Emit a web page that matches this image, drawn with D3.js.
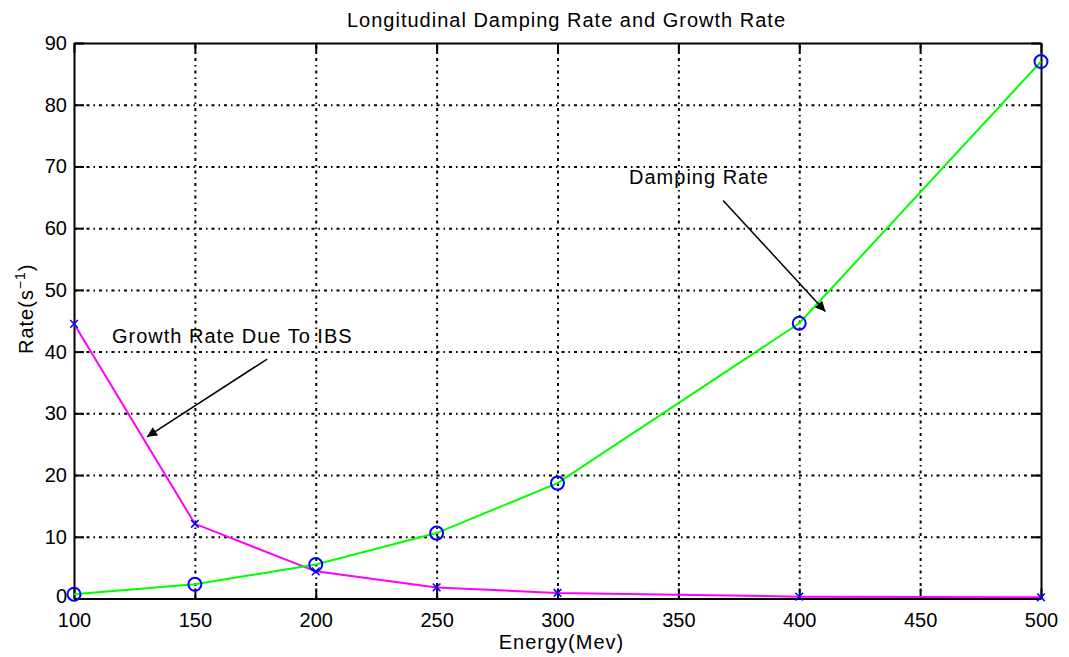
<!DOCTYPE html>
<html lang="en">

<head>
	<meta charset="utf-8">
	<title>Longitudinal Damping Rate and Growth Rate</title>
	<script type="text/javascript" src="https://cdn.jsdelivr.net/npm/d3@7"></script>
	<style type="text/css">
		body {
			margin: 0;
			background: #fff;
		}

		svg text {
			font-family: "Liberation Sans", Arial, sans-serif;
			fill: #000;
		}

		.label {
			font-size: 20px;
			letter-spacing: 1px;
		}

		.axis path,
		.axis line {
			stroke: #000;
			stroke-width: 2px;
		}

		.axis text {
			font-size: 20px;
		}

		.grid line {
			stroke: #000;
			stroke-width: 2px;
			stroke-dasharray: 3, 4, 1.5, 4;
		}

		.grid path {
			stroke: none;
		}
	</style>
</head>

<body>
	<script type="text/javascript">
		//Width and height
		var w = 1069;
		var h = 657;
		var margin = { top: 43, right: 28, bottom: 58.5, left: 74 };

		// data
		var energy = [100, 150, 200, 250, 300, 400, 500];
		var dampingRate = [0.7, 2.3, 5.5, 10.6, 18.7, 44.6, 87.0];
		var growthRate = [44.5, 12.1, 4.4, 1.8, 0.9, 0.3, 0.2];

		var xTicks = [100, 150, 200, 250, 300, 350, 400, 450, 500];
		var yTicks = [0, 10, 20, 30, 40, 50, 60, 70, 80, 90];

		// annotations: [label, text x, text y, arrow from x, y, arrow to x, y] in data units
		var notes = [
			["Damping Rate", 329.6, 67.2, 368.5, 64.5, 410.8, 46.5],
			["Growth Rate Due To IBS", 115.7, 41.4, 179.9, 38.8, 130.2, 26.2]
		];

		var pw = w - margin.left - margin.right;
		var ph = h - margin.top - margin.bottom;

		//Create scale functions
		var xScale = d3.scaleLinear()
			.domain([100, 500])
			.range([margin.left, margin.left + pw]);

		var yScale = d3.scaleLinear()
			.domain([0, 90])
			.range([margin.top + ph, margin.top]);

		//Create SVG element
		var svg = d3.select("body")
			.append("svg")
			.attr("width", w)
			.attr("height", h);

		// arrow head
		svg.append("defs")
			.append("marker")
			.attr("id", "head")
			.attr("viewBox", "0 0 10 10")
			.attr("refX", 10)
			.attr("refY", 5)
			.attr("markerUnits", "userSpaceOnUse")
			.attr("markerWidth", 13)
			.attr("markerHeight", 10)
			.attr("orient", "auto")
			.append("path")
			.attr("d", "M0,0 L10,5 L0,10 Z")
			.attr("fill", "#000");

		// grid lines
		svg.append("g")
			.attr("class", "grid")
			.attr("transform", "translate(0," + (margin.top + ph) + ")")
			.call(d3.axisBottom(xScale).tickValues(xTicks.slice(1, -1)).tickSize(-ph).tickFormat(""));

		svg.append("g")
			.attr("class", "grid")
			.attr("transform", "translate(" + margin.left + ",0)")
			.call(d3.axisLeft(yScale).tickValues(yTicks.slice(1, -1)).tickSize(-pw).tickFormat(""));

		// axes, ticks pointing inward
		var xAxis = d3.axisBottom(xScale)
			.tickValues(xTicks)
			.tickSizeInner(-10)
			.tickSizeOuter(0)
			.tickPadding(14);

		var yAxis = d3.axisLeft(yScale)
			.tickValues(yTicks)
			.tickSizeInner(-10)
			.tickSizeOuter(0)
			.tickPadding(7);

		svg.append("g")
			.attr("class", "axis")
			.attr("transform", "translate(0," + (margin.top + ph) + ")")
			.call(xAxis);

		svg.append("g")
			.attr("class", "axis")
			.attr("transform", "translate(0," + margin.top + ")")
			.call(d3.axisTop(xScale).tickValues(xTicks).tickSizeInner(-10).tickSizeOuter(0).tickFormat(""));

		var yAxisG = svg.append("g")
			.attr("class", "axis")
			.attr("transform", "translate(" + margin.left + ",0)")
			.call(yAxis);

		// the zero label sits just above the 100 label, as in the original
		yAxisG.selectAll(".tick text")
			.filter(function (d) { return d === 0; })
			.attr("dy", "0.2em");

		svg.append("g")
			.attr("class", "axis")
			.attr("transform", "translate(" + (margin.left + pw) + ",0)")
			.call(d3.axisRight(yScale).tickValues(yTicks).tickSizeInner(-10).tickSizeOuter(0).tickFormat(""));

		// lines
		var rateLine = d3.line()
			.x(function (d, i) { return xScale(energy[i]); })
			.y(function (d) { return yScale(d); });

		svg.append("path")
			.datum(growthRate)
			.attr("d", rateLine)
			.attr("fill", "none")
			.attr("stroke", "#ff00ff")
			.attr("stroke-width", 2);

		svg.append("path")
			.datum(dampingRate)
			.attr("d", rateLine)
			.attr("fill", "none")
			.attr("stroke", "#00ff00")
			.attr("stroke-width", 2);

		// circle markers for damping rate
		svg.selectAll("circle.damp")
			.data(dampingRate)
			.enter()
			.append("circle")
			.attr("class", "damp")
			.attr("cx", function (d, i) { return xScale(energy[i]); })
			.attr("cy", function (d) { return yScale(d); })
			.attr("r", 6.5)
			.attr("fill", "none")
			.attr("stroke", "#0000ff")
			.attr("stroke-width", 2);

		// x markers for growth rate
		svg.selectAll("path.grow")
			.data(growthRate)
			.enter()
			.append("path")
			.attr("class", "grow")
			.attr("d", d3.symbol().type(d3.symbolX).size(40))
			.attr("transform", function (d, i) {
				return "translate(" + xScale(energy[i]) + "," + yScale(d) + ")";
			})
			.attr("fill", "none")
			.attr("stroke", "#0000ff")
			.attr("stroke-width", 1.5);

		// annotations
		notes.forEach(function (n) {
			svg.append("text")
				.attr("class", "label")
				.attr("x", xScale(n[1]))
				.attr("y", yScale(n[2]))
				.text(n[0]);

			svg.append("line")
				.attr("x1", xScale(n[3]))
				.attr("y1", yScale(n[4]))
				.attr("x2", xScale(n[5]))
				.attr("y2", yScale(n[6]))
				.attr("stroke", "#000")
				.attr("stroke-width", 1.5)
				.attr("marker-end", "url(#head)");
		});

		// title and axis labels
		svg.append("text")
			.attr("class", "label")
			.attr("x", margin.left + pw / 2 + 9)
			.attr("y", 27)
			.attr("text-anchor", "middle")
			.text("Longitudinal Damping Rate and Growth Rate");

		svg.append("text")
			.attr("class", "label")
			.attr("x", margin.left + pw / 2 + 4)
			.attr("y", 649)
			.attr("text-anchor", "middle")
			.text("Energy(Mev)");

		var yLabel = svg.append("text")
			.attr("class", "label")
			.attr("transform", "translate(33," + (margin.top + ph / 2 - 12) + ") rotate(-90)")
			.attr("text-anchor", "middle");
		yLabel.append("tspan").text("Rate(s");
		yLabel.append("tspan").attr("dy", -8).attr("font-size", "14px").text("\u22121");
		yLabel.append("tspan").attr("dy", 8).text(")");

	</script>
</body>

</html>
